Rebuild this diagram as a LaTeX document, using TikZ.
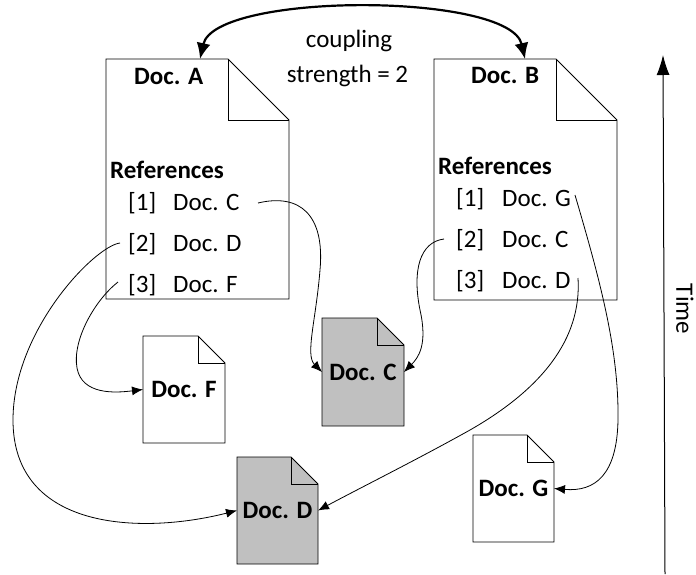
\documentclass[tikz,border=0pt]{standalone}
\usepackage{fontspec}
\setmainfont{Carlito}
\usetikzlibrary{arrows.meta,backgrounds}
\definecolor{docgray}{RGB}{192,192,192}
\newcommand\docoutline[3]{%
  \filldraw[docline, fill=#3] (#1.south west) -- (#1.north west) -- ([xshift=-#2]#1.north east) -- ([yshift=-#2]#1.north east) -- (#1.south east) -- cycle;
  \draw[docline] ([xshift=-#2]#1.north east) |- ([yshift=-#2]#1.north east);
}
\begin{document}
\begin{tikzpicture}[x=1pt,y=-1pt,
  docbox/.style={draw=none, inner sep=0pt, outer sep=0pt},
  docline/.style={draw=black, line width=0.9pt, line join=miter},
  lbl/.style={font=\fontsize{25}{30}\selectfont, inner sep=0pt},
  blbl/.style={font=\fontsize{25}{30}\selectfont\bfseries, inner sep=0pt},
  ref/.style={-{Latex[length=11pt,width=9pt]}, line width=0.8pt},
  couple/.style={{Latex[length=16pt,width=14pt]}-{Latex[length=16pt,width=14pt]}, line width=2.2pt},
  timearrow/.style={-{Latex[length=20pt,width=13pt]}, line width=1pt}
  ]
\useasboundingbox (0,0) rectangle (696,574);

% documents
\node[docbox, minimum width=183pt, minimum height=240pt] (A) at (197.5,179) {};
\node[docbox, minimum width=183pt, minimum height=241pt] (B) at (525.5,179.5) {};
\node[docbox, blbl, minimum width=82pt, minimum height=107pt] (F) at (184,389.5) {Doc. F};
\node[docbox, blbl, minimum width=82pt, minimum height=108pt] (C) at (363,372) {Doc. C};
\node[docbox, blbl, minimum width=81pt, minimum height=107pt] (D) at (277.5,510.5) {Doc. D};
\node[docbox, blbl, minimum width=81pt, minimum height=107pt] (G) at (513.5,488.5) {Doc. G};

\begin{scope}[on background layer]
  \docoutline{A}{61pt}{white}
  \docoutline{B}{61pt}{white}
  \docoutline{F}{27pt}{white}
  \docoutline{C}{27pt}{docgray}
  \docoutline{D}{27pt}{docgray}
  \docoutline{G}{27pt}{white}
\end{scope}

% Doc A texts
\node[blbl, anchor=base west] (Atitle) at (134,84) {Doc. A};
\node[blbl, anchor=base west] (Aref) at (110,178) {References};
\node[lbl, anchor=base west] (A1) at (128,210) {\makebox[45pt][l]{[1]}Doc. C};
\node[lbl, anchor=base west] (A2) at (128,251) {\makebox[45pt][l]{[2]}Doc. D};
\node[lbl, anchor=base west] (A3) at (128,292) {\makebox[45pt][l]{[3]}Doc. F};

% Doc B texts
\node[blbl, anchor=base west] (Btitle) at (471,83) {Doc. B};
\node[blbl, anchor=base west] (Bref) at (438,174) {References};
\node[lbl, anchor=base west] (B1) at (456,206) {\makebox[46pt][l]{[1]}Doc. G};
\node[lbl, anchor=base west] (B2) at (456,247) {\makebox[46pt][l]{[2]}Doc. C};
\node[lbl, anchor=base west] (B3) at (456,288) {\makebox[46pt][l]{[3]}Doc. D};

% coupling
\node[lbl, anchor=base] (cpl1) at (349,47) {coupling};
\node[lbl, anchor=base] (cpl2) at (347.5,82) {strength = 2};
\draw[couple] ([xshift=2.5pt]A.north) .. controls (215,-8) and (510,-8) .. ([xshift=-0.5pt]B.north);

% time
\coordinate (tbot) at (665,574);
\coordinate (ttop) at (663,55);
\draw[timearrow] (tbot) -- (ttop);
\node[lbl, rotate=-90] (time) at (685,309) {Time};

% reference connectors
\coordinate (a1s) at (258,203);
\coordinate (a2s) at (120,243);
\coordinate (a3s) at (118,282);
\coordinate (b1s) at (575,195);
\coordinate (b2s) at (444,239);
\coordinate (b3s) at (578,278);

\draw[ref] (a1s) .. controls (300,193) and (325,215) .. (320,270) .. controls (316,320) and (305,355) .. (C.west);
\draw[ref] (b2s) .. controls (420,242) and (412,270) .. (420,310) .. controls (428,345) and (418,358) .. (C.east);
\draw[ref] (a2s) .. controls (95,246) and (13,330) .. (13,420) .. controls (13,530) and (140,535) .. (D.west);
\draw[ref] (a3s) .. controls (95,300) and (72,340) .. (77,368) .. controls (82,395) and (115,393) .. (F.west);
\draw[ref] (b1s) .. controls (600,280) and (619,350) .. (618,420) .. controls (617,475) and (595,492) .. (G.east);
\draw[ref] (b3s) .. controls (582,340) and (540,390) .. (470,430) .. controls (420,458) and (360,488) .. (D.east);
\end{tikzpicture}
\end{document}
